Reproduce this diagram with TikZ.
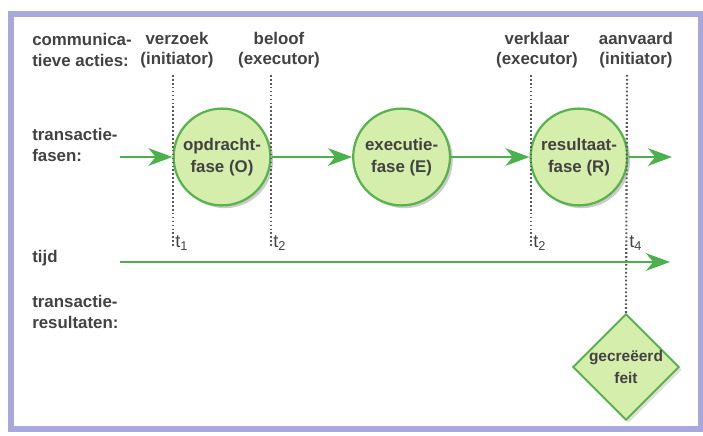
\documentclass[tikz,border=0pt]{standalone}
\usepackage{fontspec}
\setmainfont{Liberation Sans}
\usetikzlibrary{arrows.meta,shapes.geometric,shadows}
\definecolor{fase_fill}{RGB}{214, 238, 172}
\definecolor{fase_line}{RGB}{88, 178, 78}
\definecolor{pijl_green}{RGB}{76, 176, 76}
\definecolor{kader}{RGB}{168, 168, 220}
\definecolor{tekst}{RGB}{66, 66, 66}
\tikzstyle{fn}=[circle,fill=fase_fill,draw=fase_line,line width=1.6pt,
  minimum size=2.42cm,inner sep=0pt,align=center,text=tekst,
  font=\bfseries\fontsize{12}{15.5}\selectfont,
  drop shadow={shadow xshift=2pt,shadow yshift=-2pt,fill=black!40}]
\tikzstyle{rf}=[diamond,fill=fase_fill,draw=fase_line,line width=1.4pt,
  minimum width=2.65cm,minimum height=2.6cm,inner sep=0pt,align=center,text=tekst,
  font=\bfseries\fontsize{11}{15}\selectfont,
  drop shadow={shadow xshift=2pt,shadow yshift=-2pt,fill=black!25}]
\tikzstyle{lbl}=[anchor=west,align=left,inner sep=0pt,text=tekst,
  font=\bfseries\fontsize{12}{14.5}\selectfont]
\tikzstyle{akt}=[align=center,inner sep=0pt,text=tekst,
  font=\bfseries\fontsize{12}{14.5}\selectfont]
\tikzstyle{tk}=[anchor=west,inner sep=1.5pt,text=tekst,font=\fontsize{13}{14}\selectfont]
\tikzstyle{stip}=[line width=1.5pt,draw=black!65,dash pattern=on 1.2pt off 1.6pt]
\tikzstyle{pl}=[draw=pijl_green,line width=1.6pt,
  -{Stealth[length=6mm,width=4.4mm,inset=1.8mm]}]
\tikzstyle{none}=[]

\begin{document}
\begin{tikzpicture}
            \useasboundingbox (0, 0) rectangle (17.575, 10.875);
            \draw [draw=kader, line width=4pt] (0.275, 0.15) rectangle (17.525, 10.525);
            \node [style=lbl] (0) at (0.8, 9.625) {communica-\\tieve acties:};
            \node [style=akt] (1) at (4.425, 9.625) {verzoek\\(initiator)};
            \node [style=akt] (2) at (6.975, 9.625) {beloof\\(executor)};
            \node [style=akt] (3) at (13.425, 9.625) {verklaar\\(executor)};
            \node [style=akt] (4) at (15.9, 9.625) {aanvaard\\(initiator)};
            \node [style=lbl] (5) at (0.8, 7.25) {transactie-\\fasen:};
            \node [style=lbl] (6) at (0.8, 4.425) {tijd};
            \node [style=lbl] (7) at (0.8, 3.075) {transactie-\\resultaten:};
            \node [style=fn] (8) at (5.55, 6.95) {opdracht-\\fase (O)};
            \node [style=fn] (9) at (10.04, 6.95) {executie-\\fase (E)};
            \node [style=fn] (10) at (14.475, 6.95) {resultaat-\\fase (R)};
            \node [style=rf] (11) at (15.65, 1.7) {gecreëerd\\feit};
            \node [style=none] (12) at (4.325, 9.0) {};
            \node [style=none] (13) at (6.775, 9.0) {};
            \node [style=none] (14) at (13.275, 9.0) {};
            \node [style=none] (15) at (15.675, 9.0) {};
            \node [style=none] (16) at (4.325, 4.7) {};
            \node [style=none] (17) at (6.775, 4.7) {};
            \node [style=none] (18) at (13.275, 4.7) {};
            \node [style=tk] (19) at (4.325, 4.8) {t\textsubscript{1}};
            \node [style=tk] (20) at (6.775, 4.8) {t\textsubscript{2}};
            \node [style=tk] (21) at (13.275, 4.8) {t\textsubscript{2}};
            \node [style=tk] (22) at (15.675, 4.8) {t\textsubscript{4}};
            \node [style=none] (23) at (3.0, 6.95) {};
            \node [style=none] (24) at (16.8, 6.95) {};
            \node [style=none] (25) at (3.0, 4.325) {};
            \node [style=none] (26) at (16.75, 4.325) {};
            \draw [style=stip] (12.center) to (16.center);
            \draw [style=stip] (13.center) to (17.center);
            \draw [style=stip] (14.center) to (18.center);
            \draw [style=stip] (15.center) to (11.north);
            \draw [style=pl] (23.center) to (8);
            \draw [style=pl] (8) to (9);
            \draw [style=pl] (9) to (10);
            \draw [style=pl] (10) to (24.center);
            \draw [style=pl] (25.center) to (26.center);
    \end{tikzpicture}
\end{document}
